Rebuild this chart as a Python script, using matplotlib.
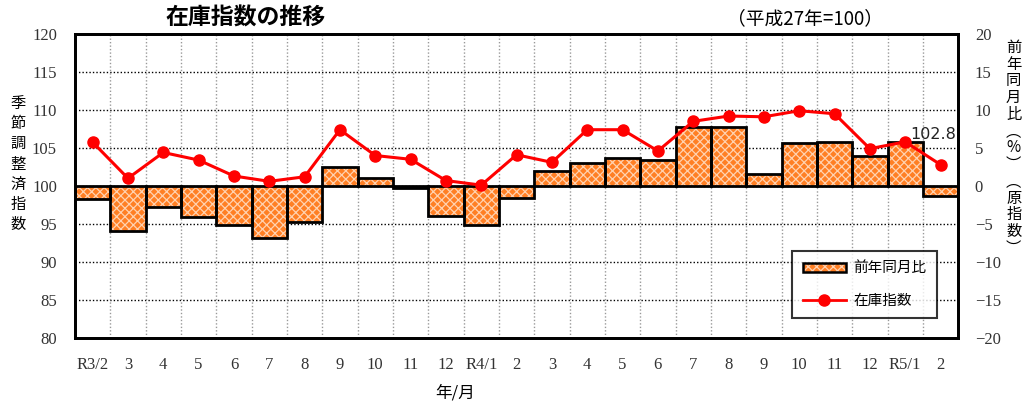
import matplotlib
matplotlib.use("Agg")
import matplotlib.pyplot as plt
import numpy as np
from matplotlib.patches import Patch
from matplotlib.lines import Line2D
from matplotlib.legend_handler import HandlerTuple

plt.rcParams['font.family'] = ['Noto Sans CJK JP', 'DejaVu Sans']
plt.rcParams['hatch.linewidth'] = 0.9

# 年/月
months = ["R3/2", "3", "4", "5", "6", "7", "8", "9", "10", "11", "12",
          "R4/1", "2", "3", "4", "5", "6", "7", "8", "9", "10", "11", "12",
          "R5/1", "2"]
# 在庫指数（季節調整済）
zaiko = [105.75, 101.0, 104.4, 103.4, 101.3, 100.6, 101.2, 107.4, 104.0, 103.5,
         100.7, 100.1, 104.1, 103.1, 107.4, 107.4, 104.6, 108.5, 109.2, 109.1,
         109.9, 109.5, 104.9, 105.8, 102.8]
# 前年同月比（%）
yoy = [-1.7, -5.9, -2.8, -4.1, -5.2, -6.9, -4.7, 2.5, 1.0, -0.3,
       -4.0, -5.2, -1.6, 1.9, 3.0, 3.7, 3.4, 7.8, 7.8, 1.6,
       5.7, 5.8, 3.9, 5.8, -1.3]
left_ticks = [80, 85, 90, 95, 100, 105, 110, 115, 120]
right_ticks = [-20, -15, -10, -5, 0, 5, 10, 15, 20]

ORANGE = "#FF7F24"
HATCH = "#FFD2B0"
serif = "Liberation Serif"

fig = plt.figure(figsize=(10.27, 4.05), dpi=100)
ax = fig.add_axes([0.073, 0.166, 0.860, 0.750])
ax2 = ax.twinx()
ax.set_zorder(ax2.get_zorder() + 1)
ax.patch.set_visible(False)

x = np.arange(len(months))

# 棒（右軸）
ax2.bar(x, yoy, width=1.0, color=ORANGE, edgecolor=HATCH, hatch="xxxx",
        linewidth=0, zorder=2)
ax2.bar(x, yoy, width=1.0, fill=False, edgecolor="black", linewidth=2.0, zorder=3)
ax2.set_ylim(-20, 20)
ax2.set_yticks(right_ticks)
ax2.set_yticklabels([str(t).replace("-", "\u2212") for t in right_ticks],
                    fontfamily=serif, fontsize=12, color="#333333")
ax2.tick_params(axis="y", length=0, pad=12)

# グリッド
for t in right_ticks[1:-1]:
    ax2.axhline(t, color="black", linestyle=(0, (1, 1.5)), linewidth=1.0, zorder=1)
for b in np.arange(0.5, len(months) - 0.5):
    ax2.axvline(b, color="#999999", linestyle=(0, (1, 1.5)), linewidth=1.0, zorder=1)

# 折れ線（左軸）
ax.plot(x, zaiko, color="#FF0000", linewidth=2.2, marker="o", markersize=8, zorder=5)
ax.set_ylim(80, 120)
ax.set_xlim(-0.5, len(months) - 0.5)
ax.set_yticks(left_ticks)
ax.set_yticklabels([str(t) for t in left_ticks], fontfamily=serif, fontsize=12,
                   color="#333333")
ax.tick_params(axis="y", length=0, pad=13)
ax.set_xticks(np.arange(0.5, len(months) - 0.5))
ax.set_xticklabels([])
ax.tick_params(axis="x", which="major", direction="in", length=3, width=1)
ax.set_xticks(x, minor=True)
ax.set_xticklabels(months, minor=True, fontfamily=serif, fontsize=12, color="#333333")
ax.tick_params(axis="x", which="minor", length=0, pad=14)
ax2.set_xticks([])

for a in (ax, ax2):
    for s in a.spines.values():
        s.set_linewidth(2.0)

ax.annotate(f"{zaiko[-1]:.1f}", xy=(x[-1], zaiko[-1]), xytext=(-5, 16),
            textcoords="offset points", ha="center", va="bottom", fontsize=11.5,
            fontfamily=["DejaVu Sans"], color="#222222")

# 凡例
bar_handle = (Patch(facecolor=ORANGE, edgecolor=HATCH, hatch="xxxx", linewidth=0),
              Patch(fill=False, edgecolor="black", linewidth=1.8))
line_handle = Line2D([0], [0], color="#FF0000", linewidth=2, marker="o", markersize=8)
leg = ax.legend([bar_handle, line_handle], ["前年同月比", "在庫指数"],
                handler_map={tuple: HandlerTuple(ndivide=1, pad=0)},
                loc="lower right", bbox_to_anchor=(0.976, 0.066), frameon=True,
                fancybox=False, edgecolor="black", fontsize=10.5, handlelength=3.0,
                handleheight=0.6, labelspacing=1.25, borderpad=0.7, handletextpad=0.5,
                borderaxespad=0)
leg.get_frame().set_linewidth(1.5)

# タイトル等
fig.text(0.239, 0.955, "在庫指数の推移", ha="center", va="center",
         fontsize=16.5, fontweight="bold")
fig.text(0.784, 0.955, "（平成27年=100）", ha="center", va="center", fontsize=13.5)
fig.text(0.443, 0.03, "年/月", ha="center", va="center", fontsize=12)
fig.text(0.018, 0.595, "\n".join("季節調整済指数"), ha="center", va="center",
         fontsize=11, linespacing=1.25)
fig.text(0.987, 0.635, "\n".join("前年同月比︵%︶︵原指数︶"), ha="center",
         va="center", fontsize=11, linespacing=0.98)

fig.savefig("out.png", dpi=100)
